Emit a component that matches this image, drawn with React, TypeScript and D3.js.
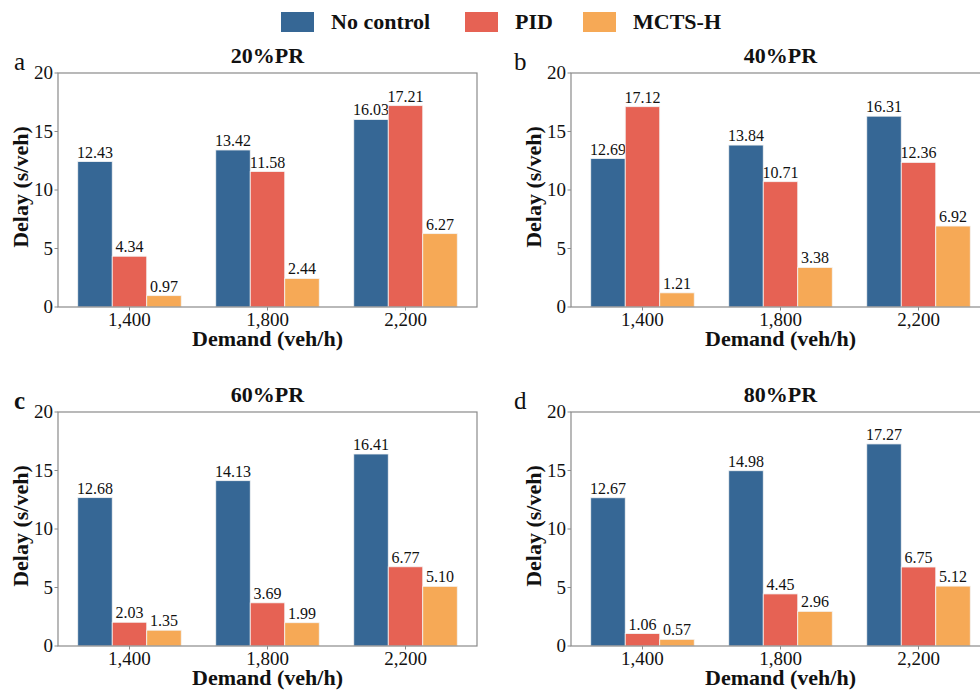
import React from 'react';
import * as d3 from 'd3';

// demand levels on the x axis
const demands = ['1,400', '1,800', '2,200'];
const seriesNames = ['No control', 'PID', 'MCTS-H'];
const seriesColors = ['#366795', '#e66254', '#f6a956'];
const yTicks = [0, 5, 10, 15, 20];

const panelTitles = ['20%PR', '40%PR', '60%PR', '80%PR'];
const panelLetters = ['a', 'b', 'c', 'd'];

// delay values per panel, one row per demand: [No control, PID, MCTS-H]
const pr20 = [[12.43, 4.34, 0.97], [13.42, 11.58, 2.44], [16.03, 17.21, 6.27]];
const pr40 = [[12.69, 17.12, 1.21], [13.84, 10.71, 3.38], [16.31, 12.36, 6.92]];
const pr60 = [[12.68, 2.03, 1.35], [14.13, 3.69, 1.99], [16.41, 6.77, 5.10]];
const pr80 = [[12.67, 1.06, 0.57], [14.98, 4.45, 2.96], [17.27, 6.75, 5.12]];
const panelData = [pr20, pr40, pr60, pr80];

const W = 980;
const H = 691;
const PW = 419;
const PH = 234;
const origins = [[58, 73], [571, 73], [58, 412], [571, 412]];
const FONT = '"Liberation Serif", "Times New Roman", serif';
const barW = 0.25;

function Panel({ idx }: { idx: number }) {
  const [ox, oy] = origins[idx];
  const data = panelData[idx];
  const left = idx % 2 === 0;
  // x in group-index units like matplotlib bars
  const x = d3.scaleLinear().domain([-0.518, 2.518]).range([0, PW]);
  const y = d3.scaleLinear().domain([0, 20]).range([PH, 0]);
  const bw = x(barW) - x(0);
  const yLabelX = (left ? 28 : 541) - ox;
  const letterX = (left ? 14 : 514) - ox;

  return (
    <g transform={`translate(${ox},${oy})`}>
      {data.map((row, gi) =>
        row.map((v, si) => {
          const cx = x(gi + (si - 1) * barW);
          return (
            <g key={`${gi}-${si}`}>
              <rect x={cx - bw / 2} y={y(v)} width={bw} height={PH - y(v)}
                fill={seriesColors[si]} stroke="#f4f4f4" strokeWidth={0.8} />
              <text x={cx} y={y(v) - 4} textAnchor="middle" fontSize={16}
                fontFamily={FONT} fill="#111">{v.toFixed(2)}</text>
            </g>
          );
        })
      )}
      <rect x={0} y={0} width={PW} height={PH} fill="none" stroke="#8a8a8a" strokeWidth={1.2} />
      {yTicks.map(t => (
        <g key={t}>
          <line x1={-3.5} x2={0} y1={y(t)} y2={y(t)} stroke="#8a8a8a" />
          <text x={-5} y={y(t)} dy="0.33em" textAnchor="end" fontSize={19}
            fontFamily={FONT} fill="#111">{t}</text>
        </g>
      ))}
      {demands.map((d, gi) => (
        <g key={d}>
          <line x1={x(gi)} x2={x(gi)} y1={PH} y2={PH + 3.5} stroke="#8a8a8a" />
          <text x={x(gi)} y={PH + 19} textAnchor="middle" fontSize={19}
            fontFamily={FONT} fill="#111">{d}</text>
        </g>
      ))}
      <text x={PW / 2} y={PH + 39} textAnchor="middle" fontSize={22} fontWeight="bold"
        fontFamily={FONT} fill="#111">Demand (veh/h)</text>
      <text transform={`translate(${yLabelX},${PH / 2 - 3}) rotate(-90)`} textAnchor="middle"
        fontSize={22} fontWeight="bold" fontFamily={FONT} fill="#111">Delay (s/veh)</text>
      <text x={PW / 2} y={-10} textAnchor="middle" fontSize={22} fontWeight="bold"
        fontFamily={FONT} fill="#111">{panelTitles[idx]}</text>
      <text x={letterX} y={-3} fontSize={25}
        fontWeight={idx === 2 ? 'bold' : 'normal'}
        fontFamily={FONT} fill="#111">{panelLetters[idx]}</text>
    </g>
  );
}

export default function App() {
  const legendX = [281, 465, 583];
  return (
    <svg width={W} height={H} style={{ display: 'block', position: 'absolute', left: 0, top: 0, background: '#fff' }}>
      <rect width={W} height={H} fill="#fff" />
      {seriesNames.map((name, i) => (
        <g key={name}>
          <rect x={legendX[i]} y={12} width={33} height={20} fill={seriesColors[i]} />
          <text x={legendX[i] + 50} y={29} fontSize={22} fontWeight="bold"
            fontFamily={FONT} fill="#111">{name}</text>
        </g>
      ))}
      {panelData.map((_, i) => <Panel key={i} idx={i} />)}
    </svg>
  );
}
